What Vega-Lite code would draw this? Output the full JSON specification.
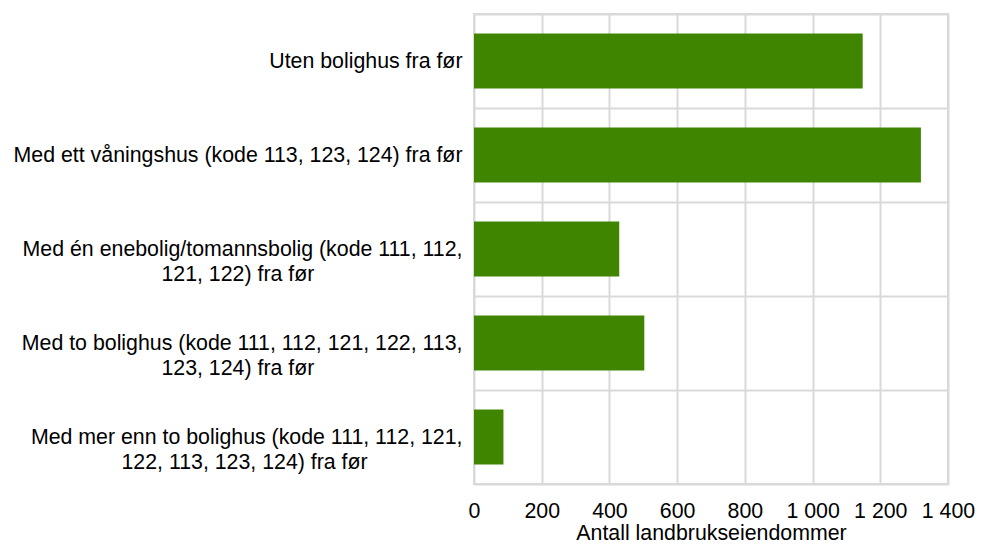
{
  "$schema": "https://vega.github.io/schema/vega-lite/v6.json",
  "width": 474,
  "height": 470,
  "autosize": {"type": "none"},
  "padding": {"left": 474, "top": 14, "right": 44, "bottom": 64},
  "background": "white",
  "data": {
    "values": [
      {"kategori": "Uten bolighus fra før", "antall": 1148},
      {"kategori": "Med ett våningshus (kode 113, 123, 124) fra før", "antall": 1320},
      {"kategori": "Med én enebolig/tomannsbolig (kode 111, 112, 121, 122) fra før", "antall": 429},
      {"kategori": "Med to bolighus (kode 111, 112, 121, 122, 113, 123, 124) fra før", "antall": 503},
      {"kategori": "Med mer enn to bolighus (kode 111, 112, 121, 122, 113, 123, 124) fra før", "antall": 87}
    ]
  },
  "mark": {"type": "bar", "color": "#408500", "height": {"band": 0.585}},
  "encoding": {
    "y": {
      "field": "kategori",
      "type": "nominal",
      "sort": null,
      "scale": {"paddingInner": 0, "paddingOuter": 0},
      "axis": {
        "title": null,
        "domain": false,
        "ticks": false,
        "tickSize": 0,
        "tickBand": "extent",
        "grid": true,
        "gridColor": "#d9d9d9",
        "gridWidth": 2,
        "labelPadding": 12,
        "labelLimit": 600,
        "labelFont": "Liberation Sans",
        "labelFontSize": 21.33,
        "labelColor": "#000000",
        "labelLineHeight": 25,
        "labelExpr": "datum.value == 'Med én enebolig/tomannsbolig (kode 111, 112, 121, 122) fra før' ? ['Med én enebolig/tomannsbolig (kode 111, 112,', '121, 122) fra før\u00a0\u00a0\u00a0\u00a0\u00a0\u00a0\u00a0\u00a0\u00a0\u00a0\u00a0\u00a0\u00a0\u00a0\u00a0\u00a0\u00a0\u00a0\u00a0\u00a0\u00a0\u00a0\u00a0\u00a0\u00a0\u200b'] : datum.value == 'Med to bolighus (kode 111, 112, 121, 122, 113, 123, 124) fra før' ? ['Med to bolighus (kode 111, 112, 121, 122, 113,', '123, 124) fra før\u00a0\u00a0\u00a0\u00a0\u00a0\u00a0\u00a0\u00a0\u00a0\u00a0\u00a0\u00a0\u00a0\u00a0\u00a0\u00a0\u00a0\u00a0\u00a0\u00a0\u00a0\u00a0\u00a0\u00a0\u00a0\u200b'] : datum.value == 'Med mer enn to bolighus (kode 111, 112, 121, 122, 113, 123, 124) fra før' ? ['Med mer enn to bolighus (kode 111, 112, 121,', '122, 113, 123, 124) fra før\u00a0\u00a0\u00a0\u00a0\u00a0\u00a0\u00a0\u00a0\u00a0\u00a0\u00a0\u00a0\u00a0\u00a0\u00a0\u00a0\u200b'] : datum.value"
      }
    },
    "x": {
      "field": "antall",
      "type": "quantitative",
      "scale": {"domain": [0, 1400], "nice": false},
      "axis": {
        "title": "Antall landbrukseiendommer",
        "values": [0, 200, 400, 600, 800, 1000, 1200, 1400],
        "domain": false,
        "ticks": false,
        "tickSize": 0,
        "grid": true,
        "gridColor": "#d9d9d9",
        "gridWidth": 2,
        "labelPadding": 16,
        "labelFont": "Liberation Sans",
        "labelFontSize": 21.33,
        "labelColor": "#000000",
        "labelFlush": false,
        "labelOverlap": false,
        "labelExpr": "replace(format(datum.value, ','), ',', ' ')",
        "titleFont": "Liberation Sans",
        "titleFontSize": 21.33,
        "titleFontWeight": "normal",
        "titleColor": "#000000",
        "titlePadding": 1
      }
    }
  },
  "config": {
    "view": {"stroke": "#d9d9d9", "strokeWidth": 2}
  }
}
